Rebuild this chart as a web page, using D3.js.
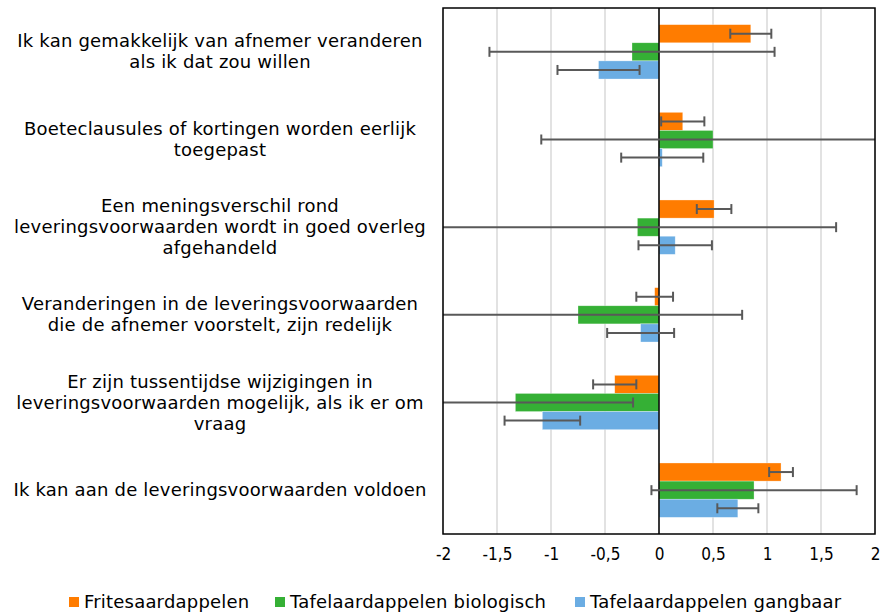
<!DOCTYPE html>
<html>
<head>
<meta charset="utf-8">
<script src="https://cdn.jsdelivr.net/npm/d3@7"></script>
<style>
  html, body { margin: 0; padding: 0; background: #fff; }
  svg { display: block; }
</style>
</head>
<body>
<svg id="chart" width="883" height="614"></svg>
<script>
// ---- data ----
const categories = [
  "Ik kan gemakkelijk van afnemer veranderen\nals ik dat zou willen",
  "Boeteclausules of kortingen worden eerlijk\ntoegepast",
  "Een meningsverschil rond\nleveringsvoorwaarden wordt in goed overleg\nafgehandeld",
  "Veranderingen in de leveringsvoorwaarden\ndie de afnemer voorstelt, zijn redelijk",
  "Er zijn tussentijdse wijzigingen in\nleveringsvoorwaarden mogelijk, als ik er om\nvraag",
  "Ik kan aan de leveringsvoorwaarden voldoen"
];
const seriesNames = ["Fritesaardappelen", "Tafelaardappelen biologisch", "Tafelaardappelen gangbaar"];
const seriesColors = ["#FF7C00", "#35B035", "#6BADE3"];
const fritesValues = [0.85, 0.22, 0.51, -0.04, -0.41, 1.13];
const fritesErrors = [0.19, 0.20, 0.16, 0.17, 0.20, 0.11];
const bioValues    = [-0.25, 0.50, -0.20, -0.75, -1.33, 0.88];
const bioErrors    = [1.32, 1.59, 1.84, 1.52, 1.09, 0.95];
const gangValues   = [-0.56, 0.03, 0.15, -0.17, -1.08, 0.73];
const gangErrors   = [0.38, 0.38, 0.34, 0.31, 0.35, 0.19];
const tickValues = [-2, -1.5, -1, -0.5, 0, 0.5, 1, 1.5, 2];
const tickLabels = ["-2", "-1,5", "-1", "-0,5", "0", "0,5", "1", "1,5", "2"];

const values = [fritesValues, bioValues, gangValues];
const errors = [fritesErrors, bioErrors, gangErrors];

// ---- layout ----
const svg = d3.select("#chart");
const plot = { left: 443, right: 875, top: 8, bottom: 534 };

const x = d3.scaleLinear().domain([-2, 2]).range([plot.left, plot.right]);
const y = d3.scaleBand().domain(d3.range(categories.length))
  .range([plot.top, plot.bottom]).paddingInner(0.38).paddingOuter(0.19);
const ys = d3.scaleBand().domain(d3.range(seriesNames.length))
  .range([0, y.bandwidth()]);

svg.append("defs").append("clipPath").attr("id", "clip")
  .append("rect").attr("x", plot.left).attr("y", plot.top)
  .attr("width", plot.right - plot.left).attr("height", plot.bottom - plot.top);

// gridlines
svg.append("g").selectAll("line").data(tickValues).join("line")
  .attr("x1", d => x(d)).attr("x2", d => x(d))
  .attr("y1", plot.top).attr("y2", plot.bottom)
  .attr("stroke", "#D9D9D9").attr("stroke-width", 1.5);

// bars
const g = svg.append("g").attr("clip-path", "url(#clip)");
seriesNames.forEach((name, s) => {
  g.append("g").selectAll("rect").data(values[s]).join("rect")
    .attr("x", d => Math.min(x(0), x(d)))
    .attr("width", d => Math.abs(x(d) - x(0)))
    .attr("y", (d, i) => y(i) + ys(s))
    .attr("height", ys.bandwidth())
    .attr("fill", seriesColors[s])
    .attr("stroke", "#fff").attr("stroke-opacity", 0.5).attr("stroke-width", 0.6);
});

// zero line
svg.append("line")
  .attr("x1", x(0)).attr("x2", x(0)).attr("y1", plot.top).attr("y2", plot.bottom)
  .attr("stroke", "#000").attr("stroke-width", 1.5);

// error bars
const eg = svg.append("g").attr("clip-path", "url(#clip)")
  .attr("stroke", "#595959").attr("stroke-width", 2).attr("fill", "none");
seriesNames.forEach((name, s) => {
  values[s].forEach((v, i) => {
    const e = errors[s][i];
    const cy = y(i) + ys(s) + ys.bandwidth() / 2;
    const lo = x(v - e), hi = x(v + e);
    eg.append("line").attr("x1", lo).attr("x2", hi).attr("y1", cy).attr("y2", cy);
    eg.append("line").attr("x1", lo).attr("x2", lo).attr("y1", cy - 5).attr("y2", cy + 5);
    eg.append("line").attr("x1", hi).attr("x2", hi).attr("y1", cy - 5).attr("y2", cy + 5);
  });
});

// border
svg.append("rect")
  .attr("x", plot.left).attr("y", plot.top)
  .attr("width", plot.right - plot.left).attr("height", plot.bottom - plot.top)
  .attr("fill", "none").attr("stroke", "#000").attr("stroke-width", 1.5);

// x axis labels
const xAxis = d3.axisBottom(x).tickValues(tickValues)
  .tickFormat((d, i) => tickLabels[i]).tickSize(0).tickPadding(0);
const ax = svg.append("g").attr("transform", `translate(0,${plot.bottom + 14})`).call(xAxis);
ax.select(".domain").remove();
ax.selectAll("text")
  .attr("font-family", "'DejaVu Sans Condensed', 'DejaVu Sans', sans-serif")
  .attr("font-stretch", "condensed")
  .attr("font-size", 17).attr("fill", "#000");

// category labels
const lineH = 21;
const lab = svg.append("g")
  .attr("font-family", "'DejaVu Sans', Verdana, sans-serif")
  .attr("font-size", 18).attr("letter-spacing", 0.2)
  .attr("fill", "#000").attr("text-anchor", "middle");
categories.forEach((c, i) => {
  const lines = c.split("\n");
  const cy = y(i) + y.bandwidth() / 2;
  const t = lab.append("text").attr("x", 220)
    .attr("y", cy - (lines.length - 1) * lineH / 2 + 6);
  lines.forEach((l, k) => {
    t.append("tspan").attr("x", 220).attr("dy", k === 0 ? 0 : lineH).text(l);
  });
});

// legend
const legendX = [69, 275, 575];
const lg = svg.append("g")
  .attr("font-family", "'DejaVu Sans', sans-serif")
  .attr("font-size", 18).attr("letter-spacing", 0.2).attr("fill", "#000");
seriesNames.forEach((n, s) => {
  lg.append("rect").attr("x", legendX[s]).attr("y", 597)
    .attr("width", 10).attr("height", 10).attr("fill", seriesColors[s]);
  lg.append("text").attr("x", legendX[s] + 15).attr("y", 608).text(n);
});
</script>
</body>
</html>
